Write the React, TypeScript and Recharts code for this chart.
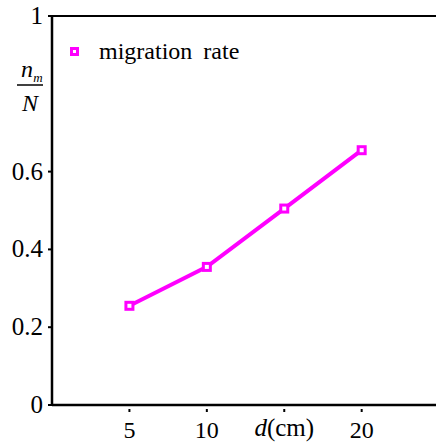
import {
  LineChart,
  Line,
  XAxis,
  YAxis,
  ReferenceLine,
} from "recharts";

const distances = [5, 10, 15, 20];
const migrationRate = [0.255, 0.355, 0.505, 0.655];
const xTicks = [5, 10, 15, 20];
const yTicks = [0, 0.2, 0.4, 0.6, 1];

const MAGENTA = "#FF00FF";
const SERIF = "Times New Roman, Liberation Serif, serif";

const data = distances.map((d, i) => ({ d, rate: migrationRate[i] }));

function SquareDot(props: any) {
  const { cx, cy } = props;
  if (cx == null || cy == null) return null;
  return (
    <rect
      x={cx - 3.5}
      y={cy - 3.5}
      width={7}
      height={7}
      fill="#fff"
      stroke={MAGENTA}
      strokeWidth={3}
    />
  );
}

function XTick(props: any) {
  const { x, y, payload } = props;
  const v = payload.value;
  return (
    <g>
      <line x1={x} x2={x} y1={y - 4} y2={y - 1} stroke="#000" strokeWidth={2} />
      {v === 15 ? (
        <text x={x} y={y + 23} textAnchor="middle" style={{ fontFamily: SERIF, fontSize: 25 }} fill="#000">
          <tspan fontStyle="italic">d</tspan>
          <tspan>(cm)</tspan>
        </text>
      ) : (
        <text x={x} y={y + 25} textAnchor="middle" style={{ fontFamily: SERIF, fontSize: 24 }} fill="#000">
          {v}
        </text>
      )}
    </g>
  );
}

function YTick(props: any) {
  const { x, y, payload } = props;
  const v = payload.value as number;
  const label = v === 0 || v === 1 ? String(v) : v.toFixed(1);
  return (
    <g>
      <line x1={x + 5} x2={x + 9} y1={y} y2={y} stroke="#000" strokeWidth={2} />
      <text x={x} y={y + 8} textAnchor="end" style={{ fontFamily: SERIF, fontSize: 25 }} fill="#000">
        {label}
      </text>
    </g>
  );
}

function YLabel() {
  const st = { fontFamily: SERIF, fontStyle: "italic" as const };
  return (
    <g fill="#000">
      <text x={27} y={77} textAnchor="middle" style={{ ...st, fontSize: 24 }}>
        n
      </text>
      <text x={38} y={82} textAnchor="middle" style={{ ...st, fontSize: 13 }}>
        m
      </text>
      <line x1={17} x2={43} y1={85} y2={85} stroke="#000" strokeWidth={1.5} />
      <text x={30} y={111} textAnchor="middle" style={{ ...st, fontSize: 24 }}>
        N
      </text>
    </g>
  );
}

function LegendBox() {
  return (
    <div
      style={{
        position: "absolute",
        left: 70,
        top: 36,
        display: "flex",
        alignItems: "center",
        fontFamily: SERIF,
        fontSize: 24,
        lineHeight: "30px",
        color: "#000",
      }}
    >
      <span
        style={{
          display: "inline-block",
          width: 3,
          height: 3,
          border: `3px solid ${MAGENTA}`,
          background: "#fff",
          marginRight: 20,
        }}
      />
      <span style={{ wordSpacing: 5 }}>migration rate</span>
    </div>
  );
}

export default function App() {
  return (
    <div style={{ position: "fixed", left: 0, top: 0, width: 436, height: 446, background: "#fff" }}>
      <LineChart width={436} height={446} data={data} margin={{ top: 16, right: 0, bottom: 0, left: 0 }}>
        <XAxis
          dataKey="d"
          type="number"
          domain={[0, 24.8]}
          ticks={xTicks}
          height={41}
          axisLine={{ stroke: "#000", strokeWidth: 2.5 }}
          tickLine={false}
          tick={<XTick />}
          allowDataOverflow
        />
        <YAxis
          domain={[0, 1]}
          ticks={yTicks}
          width={52}
          axisLine={{ stroke: "#000", strokeWidth: 2.5 }}
          tickLine={false}
          tickSize={4}
          tickMargin={5}
          tick={<YTick />}
          label={{ content: () => <YLabel /> }}
        />
        <ReferenceLine y={1} stroke="#000" strokeWidth={2} ifOverflow="visible" />
        <Line
          type="linear"
          dataKey="rate"
          stroke={MAGENTA}
          strokeWidth={4}
          dot={<SquareDot />}
          activeDot={false}
          isAnimationActive={false}
        />
      </LineChart>
      <LegendBox />
    </div>
  );
}
